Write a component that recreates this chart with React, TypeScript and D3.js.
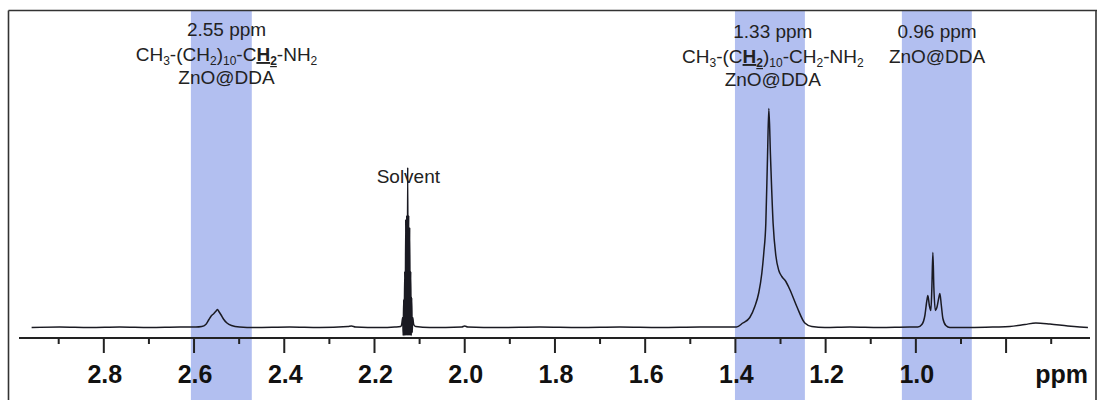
import React from 'react';
import * as d3 from 'd3';

// ---- data (ppm, relative intensity) ----
const spectrum: [number, number][] = [
  [2.960, 0], [2.898, 0.5], [2.831, 0], [2.765, 0.5], [2.698, 0], [2.631, 0.5], [2.596, 0.5],
  // 2.55 ppm multiplet
  [2.583, 1], [2.574, 3], [2.567, 8], [2.562, 11.5], [2.556, 14], [2.551, 16.5], [2.548, 18],
  [2.545, 16], [2.540, 12.5], [2.534, 8], [2.527, 4.5], [2.517, 2], [2.499, 0.5], [2.466, 0],
  [2.388, 0.5], [2.322, 0], [2.259, 1], [2.251, 1.5], [2.242, 0.5], [2.188, 0], [2.155, 0.5],
  // solvent multiplet
  [2.1419, 1], [2.1397, 3], [2.1375, 10], [2.1364, -8], [2.1353, 28], [2.1342, -8],
  [2.1330, 56], [2.1319, -8], [2.1308, 108], [2.1297, -8], [2.1286, 112], [2.1275, -8],
  [2.1264, 160], [2.1253, -8], [2.1242, 112], [2.1231, -8], [2.1220, 100], [2.1208, -8],
  [2.1197, 56], [2.1186, -8], [2.1175, 30], [2.1164, -5], [2.1153, 10], [2.1131, 3], [2.1087, 1],
  [2.0776, 0], [2.0067, 0.5], [2.0000, 1.5], [1.9933, 0.5], [1.9224, 0], [1.8337, 0.5],
  [1.7450, 0], [1.6563, 0.5], [1.5676, 0], [1.4789, 0.5], [1.4235, 0.5],
  // 1.33 ppm
  [1.3976, 0.5], [1.3836, 4.5], [1.3681, 10], [1.3570, 21], [1.3481, 35], [1.3415, 54],
  [1.3370, 75], [1.3326, 104], [1.3288, 171], [1.3259, 219], [1.3222, 171], [1.3164, 104],
  [1.3104, 72], [1.3038, 57], [1.2971, 51], [1.2882, 46], [1.2794, 38], [1.2639, 21],
  [1.2461, 4.5], [1.2306, 1], [1.2018, 0],
  [1.1463, 0.5], [1.0798, 0], [1.0133, 0.5],
  // 0.96 ppm triplet
  [0.9956, 0.5], [0.9867, 3], [0.9800, 12], [0.9756, 27], [0.9734, 32], [0.9701, 22],
  [0.9667, 17], [0.9645, 40], [0.9623, 75], [0.9601, 40], [0.9568, 17], [0.9534, 20],
  [0.9490, 30], [0.9468, 34], [0.9435, 22], [0.9401, 9], [0.9335, 2], [0.9246, 0],
  // broad hump
  [0.8803, 0], [0.8248, 0.5], [0.7916, 1], [0.7583, 3], [0.7340, 4.5], [0.7030, 3.5],
  [0.6630, 1.5], [0.6364, 0.5], [0.6186, 0],
];

const bandRanges: [number, number][] = [[2.607, 2.472], [1.401, 1.246], [1.031, 0.876]];

const majorTicks = [2.8, 2.6, 2.4, 2.2, 2.0, 1.8, 1.6, 1.4, 1.2, 1.0, 0.8];
const majorLabels = ['2.8', '2.6', '2.4', '2.2', '2.0', '1.8', '1.6', '1.4', '1.2', '1.0', ''];
const minorTicks = [2.9, 2.7, 2.5, 2.3, 2.1, 1.9, 1.7, 1.5, 1.3, 1.1, 0.9, 0.7];
const axisUnit = 'ppm';

type Seg = { t: string; sub?: boolean; b?: boolean };
const chainA: Seg[] = [
  { t: 'CH' }, { t: '3', sub: true }, { t: '-(CH' }, { t: '2', sub: true }, { t: ')' },
  { t: '10', sub: true }, { t: '-C' }, { t: 'H', b: true }, { t: '2', sub: true, b: true },
  { t: '-NH' }, { t: '2', sub: true },
];
const chainB: Seg[] = [
  { t: 'CH' }, { t: '3', sub: true }, { t: '-(C' }, { t: 'H', b: true }, { t: '2', sub: true, b: true },
  { t: ')' }, { t: '10', sub: true }, { t: '-CH' }, { t: '2', sub: true }, { t: '-NH' },
  { t: '2', sub: true },
];

const annotations = [
  { ppm: 2.528, lines: ['2.55 ppm', chainA, 'ZnO@DDA'], ys: [35.5, 61, 84] },
  { ppm: 1.317, lines: ['1.33 ppm', chainB, 'ZnO@DDA'], ys: [38, 63, 86] },
  { ppm: 0.953, lines: ['0.96 ppm', 'ZnO@DDA'], ys: [38, 63] },
];
const solventLabel = { ppm: 2.125, text: 'Solvent' };

const FONT = '"Liberation Sans", Arial, Helvetica, sans-serif';

function Chem({ segs }: { segs: Seg[] }) {
  const out: React.ReactNode[] = [];
  let shifted = false;
  segs.forEach((s, i) => {
    let dy = 0;
    if (s.sub && !shifted) { dy = 4; shifted = true; }
    else if (!s.sub && shifted) { dy = -4; shifted = false; }
    out.push(
      <tspan key={i} dy={dy || undefined} fontSize={s.sub ? 12 : 19}
        fontWeight={s.b ? 'bold' : 'normal'}
        textDecoration={s.b ? 'underline' : undefined}>{s.t}</tspan>
    );
  });
  return <>{out}</>;
}

export default function App() {
  const W = 1097, H = 400;
  const x = d3.scaleLinear().domain([2.988, 0.614]).range([19, 1090]);
  const y = d3.scaleLinear().domain([0, 220]).range([327.5, 107.5]);
  const axisY = 338;
  const line = d3.line<[number, number]>()
    .x(d => x(d[0])).y(d => y(d[1])).curve(d3.curveMonotoneX);
  const [d0, d1] = x.domain();

  return (
    <svg width={W} height={H} style={{ position: 'absolute', left: 0, top: 0 }}
      fontFamily={FONT}>
      <rect x={0} y={0} width={W} height={H} fill="#fff" />
      {bandRanges.map((b, i) => (
        <rect key={i} x={x(b[0])} y={11} width={x(b[1]) - x(b[0])} height={H - 11}
          fill="rgb(178,191,240)" />
      ))}
      {/* frame */}
      <line x1={8.5} y1={10.5} x2={W} y2={10.5} stroke="#333" strokeWidth={1.6} />
      <line x1={8.5} y1={10.5} x2={8.5} y2={H} stroke="#333" strokeWidth={1.6} />
      <line x1={W - 1} y1={10.5} x2={W - 1} y2={H} stroke="#333" strokeWidth={1.6} />

      {/* axis */}
      <line x1={x(d0)} x2={x(d1)} y1={axisY} y2={axisY} stroke="#222" strokeWidth={2} />
      {majorTicks.map((t, i) => (
        <line key={'M' + i} x1={x(t)} x2={x(t)} y1={axisY} y2={axisY + 15} stroke="#222" strokeWidth={2} />
      ))}
      {minorTicks.map((t, i) => (
        <line key={'m' + i} x1={x(t)} x2={x(t)} y1={axisY} y2={axisY + 6} stroke="#222" strokeWidth={2} />
      ))}
      {majorTicks.map((t, i) => (
        <text key={'L' + i} x={x(t) + 1} y={383} textAnchor="middle" fontSize={25}
          fontWeight="bold" fill="#111">{majorLabels[i]}</text>
      ))}
      <text x={x(d1) - 2} y={383} textAnchor="end" fontSize={25} fontWeight="bold" fill="#111">{axisUnit}</text>

      {/* annotations */}
      {annotations.map((a, i) => (
        <g key={i} fill="#222">
          {a.lines.map((ln, j) => (
            <text key={j} x={x(a.ppm)} y={a.ys[j]} textAnchor="middle" fontSize={19}>
              {typeof ln === 'string' ? ln : <Chem segs={ln} />}
            </text>
          ))}
        </g>
      ))}
      <text x={x(solventLabel.ppm)} y={183} textAnchor="middle" fontSize={19} fill="#222">
        {solventLabel.text}
      </text>

      {/* spectrum */}
      <path d={line(spectrum) || ''} fill="none" stroke="#1a1a22" strokeWidth={1.5}
        strokeLinejoin="round" />
    </svg>
  );
}
